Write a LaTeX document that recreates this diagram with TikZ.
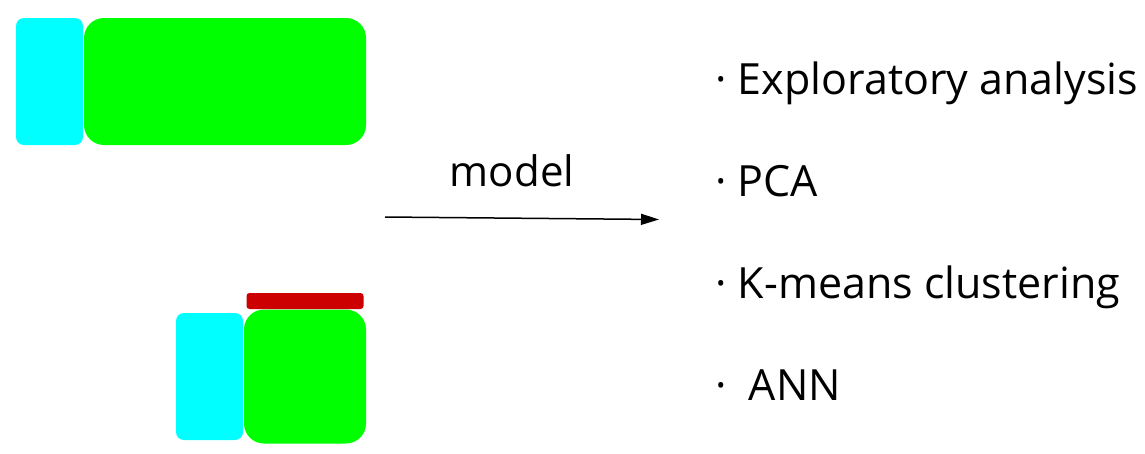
\documentclass[tikz,border=0pt]{standalone}
\usepackage{fontspec}
\setmainfont{Open Sans}
\usetikzlibrary{arrows.meta}
\definecolor{cyanbox}{RGB}{0,255,255}
\definecolor{greenbox}{RGB}{0,255,0}
\definecolor{redbar}{RGB}{204,0,0}
\tikzset{
  blk/.style={rectangle, inner sep=0pt, outer sep=0pt, anchor=north west},
  cyanblk/.style={blk, fill=cyanbox, rounded corners=8pt},
  greenblk/.style={blk, fill=greenbox, rounded corners=20pt},
  redblk/.style={blk, fill=redbar, rounded corners=3pt},
  item/.style={anchor=base west, inner sep=0pt, font=\fontsize{43}{50}\selectfont},
  lbl/.style={anchor=base, inner sep=0pt, font=\fontsize{42}{50}\selectfont},
}
\begin{document}
\begin{tikzpicture}[x=1pt,y=-1pt]
\useasboundingbox (0,0) rectangle (1145,453);
% top pair
\node[cyanblk, minimum width=67pt, minimum height=127pt] (c1) at (16,18) {};
\node[greenblk, minimum width=282pt, minimum height=127pt] (g1) at (84,18) {};
% bottom pair
\node[cyanblk, minimum width=67pt, minimum height=127pt] (c2) at (176,313) {};
\node[greenblk, minimum width=122pt, minimum height=134pt] (g2) at (244,309.5) {};
\node[redblk, minimum width=117pt, minimum height=16pt] (r2) at (246.5,293) {};
% arrow
\coordinate (as) at (385,217);
\coordinate (ae) at (659,219.5);
\draw[line width=1.5pt, -{Triangle[length=18pt,width=11pt]}] (as) -- (ae);
\node[lbl] (model) at (512,186) {model};
% list
\node[item] (i1) at (715,94) {· Exploratory analysis};
\node[item] (i2) at (715,196) {· PCA};
\node[item] (i3) at (715,298) {· K-means clustering};
\node[item] (i4) at (715,400) {·\ \ ANN};
\end{tikzpicture}
\end{document}
